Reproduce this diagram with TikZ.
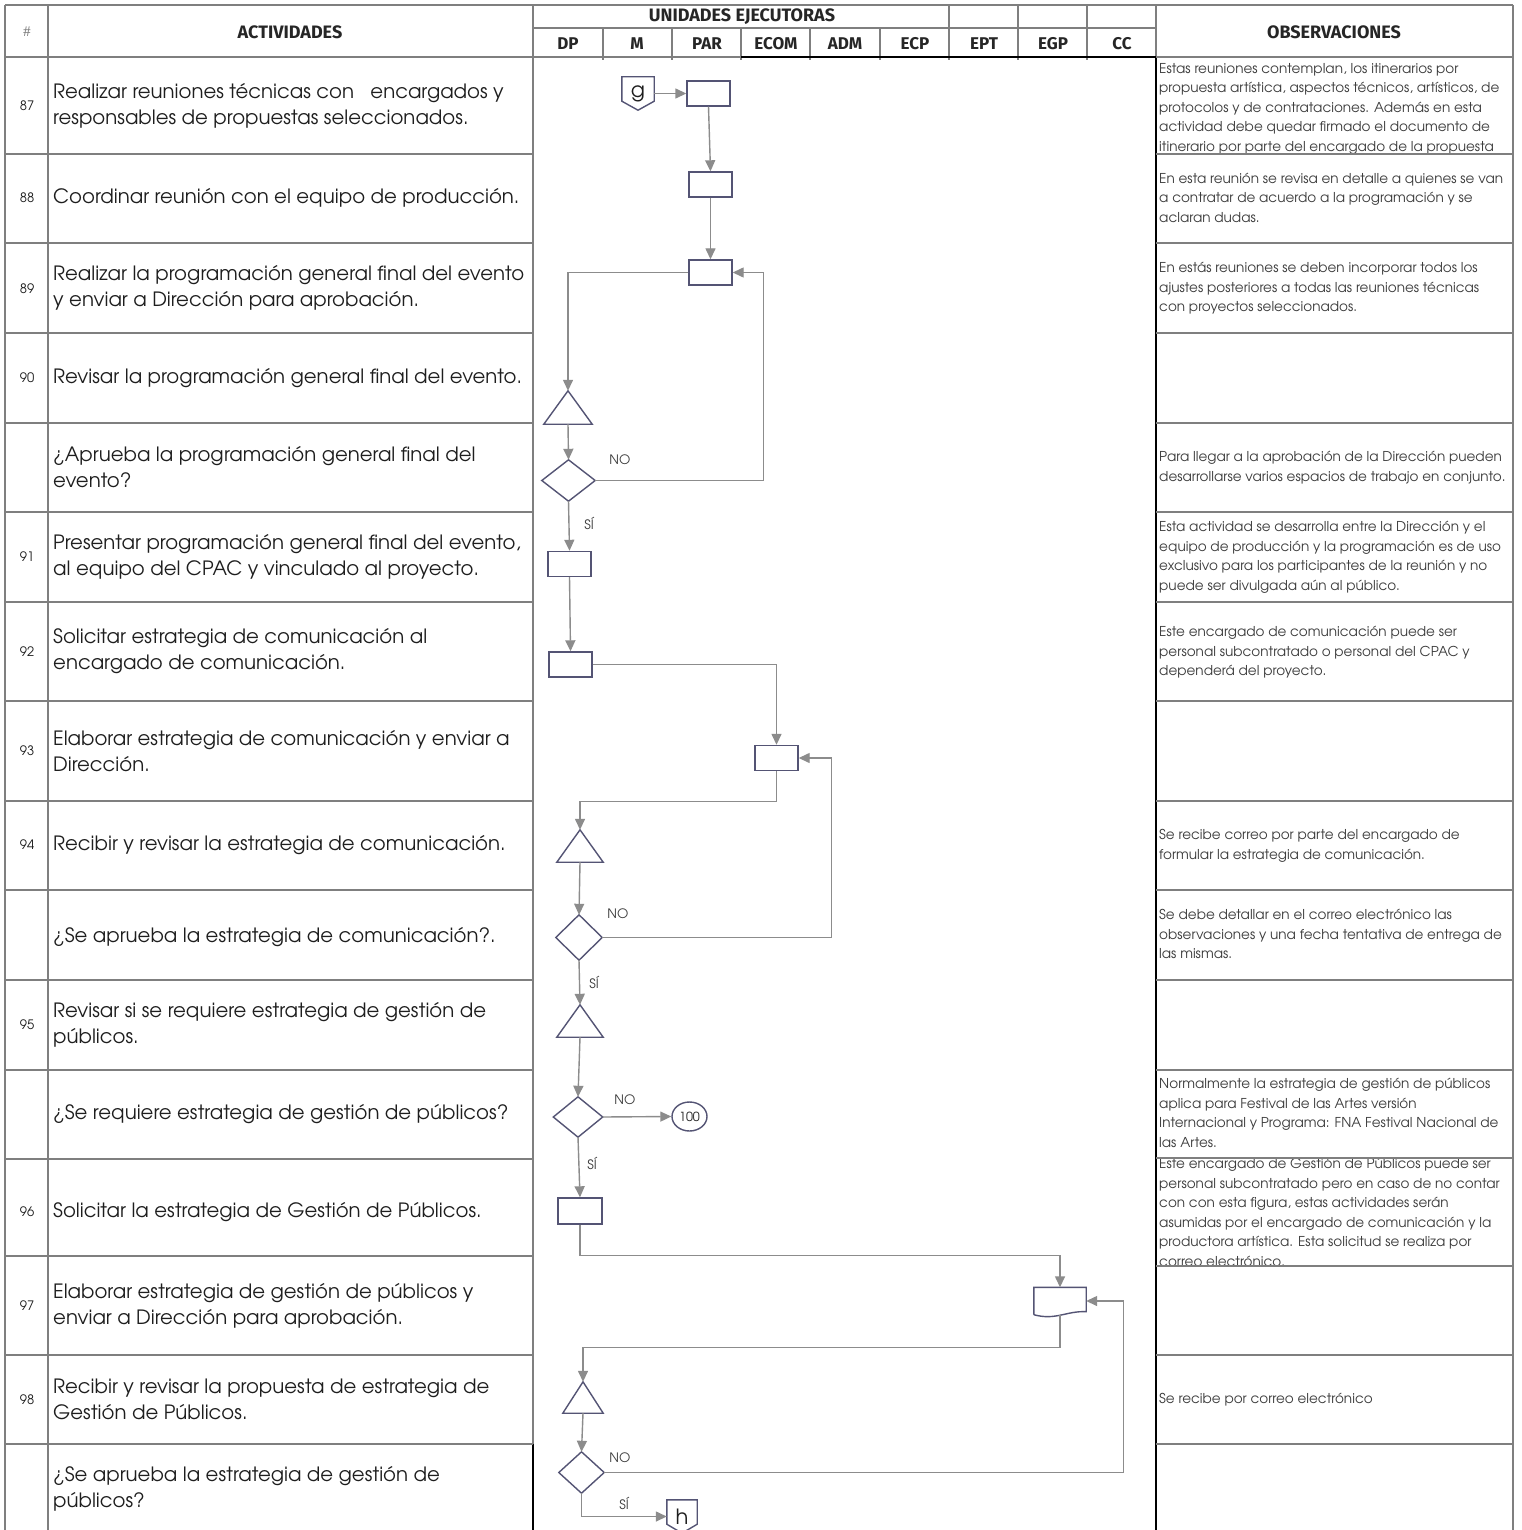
\documentclass[tikz,border=0pt]{standalone}
\usepackage{fontspec}
\setmainfont{texgyreadventor}[Extension=.otf,UprightFont=*-regular,BoldFont=*-bold,ItalicFont=*-italic,BoldItalicFont=*-bolditalic]
\newfontfamily\headfont{Fira Sans}
\usetikzlibrary{arrows.meta,calc,shapes.geometric}
\definecolor{tline}{HTML}{7F7F7F}
\definecolor{cline}{HTML}{8C8C8C}
\definecolor{shp}{HTML}{545474}
\definecolor{txt}{HTML}{1E1E1E}
\definecolor{otxt}{HTML}{3C3C3C}
\begin{document}
\begin{tikzpicture}[x=1pt,y=-1pt,
 tl/.style={draw=tline,line width=2.4pt},
 bl/.style={draw=black,line width=2.4pt},
 box/.style={draw=shp,line width=1.4pt,minimum width=43pt,minimum height=25pt,inner sep=0pt,fill=white},
 ghost/.style={inner sep=0pt,draw=none},
 shp/.style={draw=shp,line width=1.4pt,line join=miter},
 conn/.style={draw=cline,line width=1.4pt,-{Triangle[length=11pt,width=10pt]}},
 act/.style={anchor=west,align=left,inner sep=0pt,text=txt,font=\fontsize{19.7}{26}\selectfont},
 num/.style={inner sep=0pt,text=txt,font=\fontsize{13}{15}\selectfont},
 obs/.style={anchor=base west,align=left,inner sep=0pt,text=otxt,font=\fontsize{13.6}{19.5}\selectfont},
 head/.style={inner sep=0pt,text=black!85,font=\headfont\bfseries\fontsize{18}{20}\selectfont},
 lbl/.style={inner sep=0pt,text=otxt,font=\fontsize{13}{14}\selectfont}
]
\useasboundingbox[fill=white] (0,0) rectangle (1521,1530);

% ---------- header texts
\node[num,text=tline] (hnum) at (27,32) {\#};
\node[head] (hact) at (290,32) {ACTIVIDADES};
\node[head] (hue) at (742,17) {UNIDADES EJECUTORAS};
\node[head] (hobs) at (1334,32) {OBSERVACIONES};
\foreach \n/\x in {DP/568,M/637,PAR/707,ECOM/776,ADM/845,ECP/915,EPT/984,EGP/1053,CC/1122}
  \node[head,font=\headfont\bfseries\fontsize{17}{20}\selectfont] (u\n) at (\x,44) {\n};

% ---------- numbers
\foreach \n/\y in {87/106,88/198,89/289,90/378,91/557,92/652,93/751,94/845,95/1025,96/1212,97/1306,98/1400}
  \node[num] (n\n) at (27,\y) {\n};

% ---------- activities
\node[act] (a87) at (53,106) {Realizar reuniones técnicas con\ \ \ encargados y\\responsables de propuestas seleccionados.};
\node[act] (a88) at (53,198) {Coordinar reunión con el equipo de producción.};
\node[act] (a89) at (53,288) {Realizar la programación general final del evento\\y enviar a Dirección para aprobación.};
\node[act] (a90) at (53,378) {Revisar la programación general final del evento.};
\node[act] (aq1) at (53,467) {¿Aprueba la programación general final del\\evento?};
\node[act] (a91) at (53,557) {Presentar programación general final del evento,\\al equipo del CPAC y vinculado al proyecto.};
\node[act] (a92) at (53,651) {Solicitar estrategia de comunicación al\\encargado de comunicación.};
\node[act] (a93) at (53,751) {Elaborar estrategia de comunicación y enviar a\\Dirección.};
\node[act] (a94) at (53,845) {Recibir y revisar la estrategia de comunicación.};
\node[act] (aq2) at (53,937) {¿Se aprueba la estrategia de comunicación?.};
\node[act] (a95) at (53,1025) {Revisar si se requiere estrategia de gestión de\\públicos.};
\node[act] (aq3) at (53,1114) {¿Se requiere estrategia de gestión de públicos?};
\node[act] (a96) at (53,1212) {Solicitar la estrategia de Gestión de Públicos.};
\node[act] (a97) at (53,1306) {Elaborar estrategia de gestión de públicos y\\enviar a Dirección para aprobación.};
\node[act] (a98) at (53,1399) {Recibir y revisar la propuesta de estrategia de\\Gestión de Públicos.};
\node[act] (aq4) at (53,1489) {¿Se aprueba la estrategia de gestión de\\públicos?};

% ---------- observations (anchor = baseline of last line)
\node[obs] (o87) at (1159,151.5) {Estas reuniones contemplan, los itinerarios por\\propuesta artística, aspectos técnicos, artísticos, de\\protocolos y de contrataciones. Además en esta\\actividad debe quedar firmado el documento de\\itinerario por parte del encargado de la propuesta};
\node[obs] (o88) at (1159,222.5) {En esta reunión se revisa en detalle a quienes se van\\a contratar de acuerdo a la programación y se\\aclaran dudas.};
\node[obs] (o89) at (1159,311.5) {En estás reuniones se deben incorporar todos los\\ajustes posteriores a todas las reuniones técnicas\\con proyectos seleccionados.};
\node[obs] (oq1) at (1159,481) {Para llegar a la aprobación de la Dirección pueden\\desarrollarse varios espacios de trabajo en conjunto.};
\node[obs] (o91) at (1159,590) {Esta actividad se desarrolla entre la Dirección y el\\equipo de producción y la programación es de uso\\exclusivo para los participantes de la reunión y no\\puede ser divulgada aún al público.};
\node[obs] (o92) at (1159,675.5) {Este encargado de comunicación puede ser\\personal subcontratado o personal del CPAC y\\dependerá del proyecto.};
\node[obs] (o94) at (1159,859) {Se recibe correo por parte del encargado de\\formular la estrategia de comunicación.};
\node[obs] (oq2) at (1159,958.5) {Se debe detallar en el correo electrónico las\\observaciones y una fecha tentativa de entrega de\\las mismas.};
\node[obs] (oq3) at (1159,1147) {Normalmente la estrategia de gestión de públicos\\aplica para Festival de las Artes versión\\Internacional y Programa: FNA Festival Nacional de\\las Artes.};
\node[obs] (o96) at (1159,1266) {Este encargado de Gestión de Públicos puede ser\\personal subcontratado pero en caso de no contar\\con con esta figura, estas actividades serán\\asumidas por el encargado de comunicación y la\\productora artística. Esta solicitud se realiza por\\correo electrónico.};
\node[obs] (o98) at (1159,1403.5) {Se recibe por correo electrónico};

% ---------- table lines
\draw[tl] (5,5) -- (1513,5);
\draw[tl] (5,5) -- (5,1530);
\draw[tl] (48,5) -- (48,1530);
\draw[tl] (533,5) -- (533,1444);
\draw[bl] (533,1444) -- (533,1530);
\draw[tl] (1156,5) -- (1156,57);
\draw[bl] (1156,57) -- (1156,1530);
\draw[tl] (1513,5) -- (1513,1530);
\draw[tl] (533,28) -- (1156,28);
\foreach \x in {603,672,741,810,880} \draw[tl] (\x,28) -- (\x,60);
\foreach \x in {949,1018,1087} \draw[tl] (\x,5) -- (\x,60);
\draw[tl] (5,57) -- (741,57);
\draw[bl] (741,57) -- (1156,57);
\draw[tl] (1156,57) -- (1513,57);
\foreach \y in {154,243,333,423,512,602,701,801,890,980,1070,1159,1256,1355,1444}
  \draw[tl] (5,\y) -- (533,\y);
\foreach \y in {154,243,333,423,512,602,701,801,890,980,1070,1158,1266,1355,1444}
  \draw[tl] (1156,\y) -- (1513,\y);

% ---------- flow nodes
\node[ghost,minimum width=32pt,minimum height=33pt,font=\fontsize{21}{24}\selectfont,text=txt] (g) at (638,93.5) {g};
\node[box] (r87) at (708.5,93.5) {};
\node[box] (r88) at (710.5,184.5) {};
\node[box] (r89) at (710.5,272.5) {};
\node[ghost,minimum width=48pt,minimum height=33pt] (t90) at (568,407.5) {};
\node[ghost,minimum width=53pt,minimum height=41pt] (d1) at (568.5,480.5) {};
\node[box] (r91) at (569.5,564) {};
\node[box] (r92) at (570.5,664.5) {};
\node[box] (r93) at (776.5,758) {};
\node[ghost,minimum width=46pt,minimum height=32pt] (t94) at (580,846) {};
\node[ghost,minimum width=46pt,minimum height=45pt] (d2) at (579,937.5) {};
\node[ghost,minimum width=46pt,minimum height=32pt] (t95) at (580,1021) {};
\node[ghost,minimum width=49pt,minimum height=40pt] (d3) at (578,1117) {};
\node[ellipse,draw=shp,line width=1.4pt,minimum width=35pt,minimum height=29pt,inner sep=0pt,font=\fontsize{12.5}{14}\selectfont,text=txt] (e100) at (689.5,1116.5) {100};
\node[box,minimum width=44pt,minimum height=26pt] (r96) at (580,1211) {};
\node[ghost,minimum width=52pt,minimum height=27pt] (doc) at (1060,1301) {};
\node[ghost,minimum width=40pt,minimum height=31pt] (t98) at (583,1397.5) {};
\node[ghost,minimum width=45pt,minimum height=41pt] (d4) at (581.5,1472.5) {};
\node[ghost,minimum width=30pt,minimum height=33pt,font=\fontsize{21}{24}\selectfont,text=txt] (h) at (682,1516.5) {h};

% shapes outlines
\draw[shp] (g.north west) -- (g.north east) -- ($(g.south east)+(0,-9)$) -- (g.south) -- ($(g.south west)+(0,-9)$) -- cycle;
\draw[shp] (h.north west) -- (h.north east) -- ($(h.south east)+(0,-9)$) -- (h.south) -- ($(h.south west)+(0,-9)$) -- cycle;
\foreach \t in {t90,t94,t95,t98}
  \draw[shp] (\t.south west) -- (\t.north) -- (\t.south east) -- cycle;
\foreach \d in {d1,d2,d3,d4}
  \draw[shp] (\d.north) -- (\d.east) -- (\d.south) -- (\d.west) -- cycle;
\draw[shp] (doc.south west) -- (doc.north west) -- (doc.north east) -- ($(doc.south east)+(0,-3)$)
  .. controls ($(doc.south east)+(-20,-4)$) and ($(doc.south west)+(22,6)$) .. (doc.south west);

% ---------- connectors
\draw[conn] (g.east) -- (r87.west);
\draw[conn] (r87.south) -- (r88.north);
\draw[conn] (r88.south) -- (r89.north);
\draw[conn] (r89.west) -| (t90.north);
\draw[conn] (t90.south) -- (d1.north);
\draw[conn] (d1.east) -| ($(r89.east)+(31,0)$) -- (r89.east);
\draw[conn] (d1.south) -- (r91.north);
\draw[conn] (r91.south) -- (r92.north);
\draw[conn] (r92.east) -| (r93.north);
\draw[conn] (r93.south) -- ++(0,30) -| (t94.north);
\draw[conn] (t94.south) -- (d2.north);
\draw[conn] (d2.east) -| ($(r93.east)+(33,0)$) -- (r93.east);
\draw[conn] (d2.south) -- (t95.north);
\draw[conn] (t95.south) -- (d3.north);
\draw[conn] (d3.east) -- (e100.west);
\draw[conn] (d3.south) -- (r96.north);
\draw[conn] (r96.south) -- ++(0,31) -| (doc.north);
\draw[conn] (doc.south) -- ++(0,33) -| (t98.north);
\draw[conn] (t98.south) -- (d4.north);
\draw[conn] (d4.east) -| ($(doc.east)+(37,0)$) -- (doc.east);
\draw[conn] (d4.south) |- (h.west);

% ---------- branch labels
\node[lbl] (no1) at (620,460) {NO};
\node[lbl] (si1) at (589,523) {SÍ};
\node[lbl] (no2) at (618,914) {NO};
\node[lbl] (si2) at (594,982) {SÍ};
\node[lbl] (no3) at (625,1100) {NO};
\node[lbl] (si3) at (592,1163) {SÍ};
\node[lbl] (no4) at (620,1458) {NO};
\node[lbl] (si4) at (624,1503) {SÍ};
\end{tikzpicture}
\end{document}
